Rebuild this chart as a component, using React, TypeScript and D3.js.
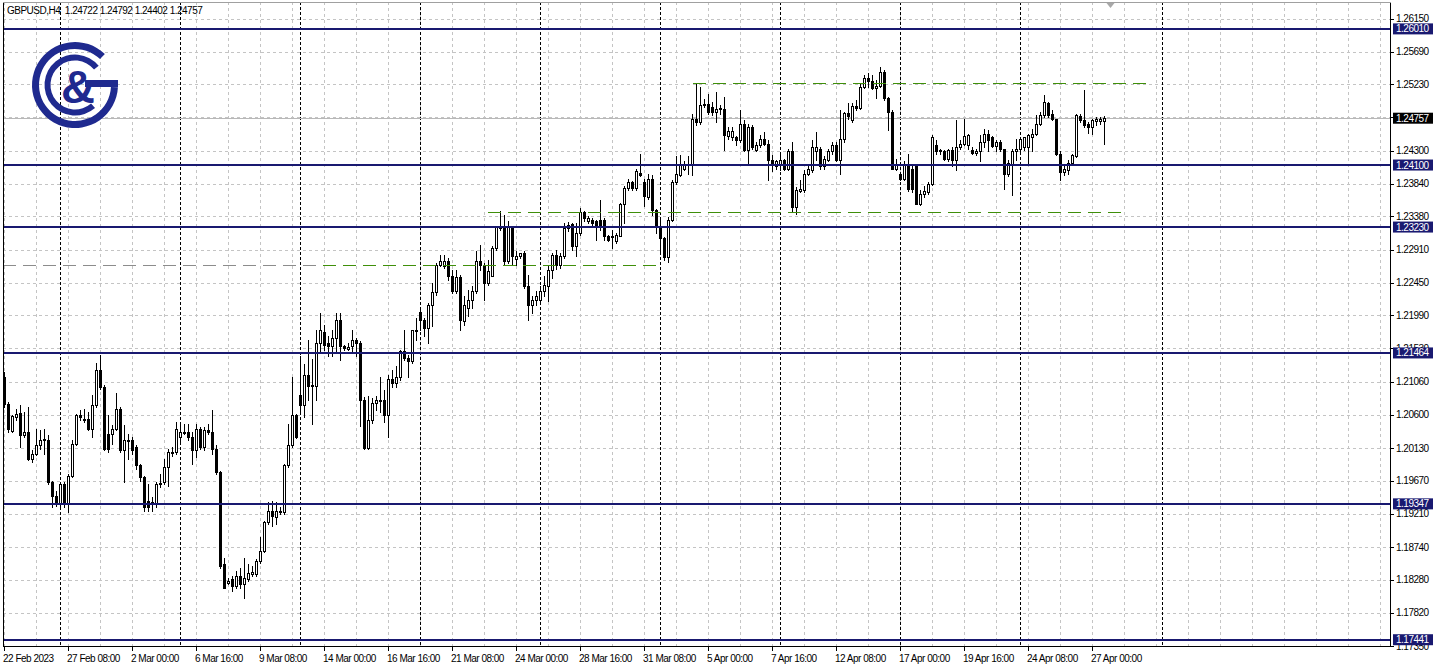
import * as d3 from "d3";

// chart header
const symbol = "GBPUSD";
const timeframe = "H4";

// H4 candles, first bar 22 Feb 2023 16:00
const opens = [
  1.2113, 1.2075, 1.2037, 1.2057, 1.2062, 1.2031, 1.2035, 1.1998, 1.2005, 1.2017,
  1.2024, 1.2024, 1.1965, 1.1946, 1.1935, 1.1963, 1.1935, 1.1974, 1.2019, 1.2059,
  1.2054, 1.2054, 1.2040, 1.2073, 1.2122, 1.2099, 1.2033, 1.2033, 1.2040, 1.2068,
  1.2010, 1.2023, 1.2024, 1.2014, 1.1989, 1.1972, 1.1939, 1.1935, 1.1935, 1.1962,
  1.1965, 1.1986, 1.2008, 1.2008, 1.2029, 1.2035, 1.2035, 1.2028, 1.2010, 1.2040,
  1.2014, 1.2038, 1.2036, 1.2012, 1.1979, 1.1850, 1.1824, 1.1829, 1.1820, 1.1833,
  1.1822, 1.1829, 1.1836, 1.1836, 1.1855, 1.1869, 1.1909, 1.1925, 1.1916, 1.1925,
  1.1923, 1.1989, 1.2017, 1.2059, 1.2088, 1.2073, 1.2116, 1.2100, 1.2100, 1.2160,
  1.2176, 1.2161, 1.2156, 1.2167, 1.2193, 1.2156, 1.2152, 1.2156, 1.2165, 1.2160,
  1.2081, 1.2013, 1.2053, 1.2076, 1.2079, 1.2080, 1.2060, 1.2110, 1.2104, 1.2113,
  1.2149, 1.2139, 1.2135, 1.2177, 1.2204, 1.2193, 1.2181, 1.2214, 1.2232, 1.2270,
  1.2268, 1.2276, 1.2254, 1.2233, 1.2253, 1.2191, 1.2210, 1.2221, 1.2233, 1.2276,
  1.2270, 1.2245, 1.2255, 1.2294, 1.2324, 1.2321, 1.2275, 1.2323, 1.2278, 1.2283,
  1.2286, 1.2240, 1.2214, 1.2221, 1.2221, 1.2233, 1.2240, 1.2263, 1.2284, 1.2270,
  1.2283, 1.2321, 1.2327, 1.2296, 1.2315, 1.2344, 1.2331, 1.2333, 1.2331, 1.2333,
  1.2333, 1.2310, 1.2309, 1.2303, 1.2311, 1.2356, 1.2378, 1.2386, 1.2378, 1.2399,
  1.2386, 1.2365, 1.2391, 1.2347, 1.2323, 1.2307, 1.2281, 1.2333, 1.2386, 1.2396,
  1.2405, 1.2411, 1.2412, 1.2475, 1.2471, 1.2494, 1.2496, 1.2492, 1.2485, 1.2488,
  1.2489, 1.2451, 1.2449, 1.2450, 1.2445, 1.2468, 1.2431, 1.2464, 1.2431, 1.2438,
  1.2447, 1.2440, 1.2417, 1.2408, 1.2410, 1.2417, 1.2405, 1.2429, 1.2351, 1.2373,
  1.2375, 1.2398, 1.2403, 1.2430, 1.2432, 1.2408, 1.2417, 1.2429, 1.2438, 1.2417,
  1.2446, 1.2483, 1.2473, 1.2493, 1.2490, 1.2520, 1.2532, 1.2528, 1.2518, 1.2521,
  1.2540, 1.2504, 1.2485, 1.2405, 1.2397, 1.2391, 1.2412, 1.2405, 1.2410, 1.2356,
  1.2369, 1.2372, 1.2384, 1.2438, 1.2429, 1.2429, 1.2419, 1.2431, 1.2417, 1.2436,
  1.2440, 1.2438, 1.2431, 1.2427, 1.2430, 1.2443, 1.2454, 1.2449, 1.2437, 1.2443,
  1.2432, 1.2398, 1.2412, 1.2430, 1.2433, 1.2436, 1.2436, 1.2450, 1.2454, 1.2468,
  1.2480, 1.2497, 1.2482, 1.2474, 1.2426, 1.2400, 1.2403, 1.2413, 1.2422, 1.2479,
  1.2473, 1.2467, 1.2463, 1.2472, 1.2472, 1.24722,
];

const highs = [
  1.2120, 1.2078, 1.2060, 1.2068, 1.2073, 1.2064, 1.2071, 1.2010, 1.2040, 1.2038,
  1.2040, 1.2031, 1.1967, 1.1953, 1.1965, 1.1965, 1.1977, 1.2024, 1.2061, 1.2066,
  1.2068, 1.2064, 1.2087, 1.2132, 1.2144, 1.2101, 1.2059, 1.2045, 1.2090, 1.2071,
  1.2045, 1.2033, 1.2029, 1.2017, 1.1991, 1.1974, 1.1963, 1.1944, 1.1965, 1.1977,
  1.1998, 1.2012, 1.2014, 1.2050, 1.2046, 1.2047, 1.2047, 1.2035, 1.2047, 1.2043,
  1.2042, 1.2047, 1.2066, 1.2017, 1.1981, 1.1859, 1.1831, 1.1834, 1.1841, 1.1845,
  1.1859, 1.1850, 1.1848, 1.1857, 1.1888, 1.1911, 1.1937, 1.1939, 1.1937, 1.1930,
  1.1991, 1.2047, 1.2113, 1.2061, 1.2142, 1.2131, 1.2165, 1.2138, 1.2179, 1.2202,
  1.2185, 1.2170, 1.2179, 1.2202, 1.2202, 1.2158, 1.2160, 1.2179, 1.2167, 1.2163,
  1.2085, 1.2086, 1.2083, 1.2086, 1.2113, 1.2095, 1.2116, 1.2123, 1.2128, 1.2151,
  1.2179, 1.2144, 1.2179, 1.2195, 1.2209, 1.2195, 1.2216, 1.2244, 1.2272, 1.2284,
  1.2284, 1.2280, 1.2263, 1.2263, 1.2256, 1.2226, 1.2235, 1.2240, 1.2289, 1.2298,
  1.2272, 1.2277, 1.2296, 1.2325, 1.2345, 1.2340, 1.2331, 1.2325, 1.2289, 1.2287,
  1.2289, 1.2256, 1.2226, 1.2233, 1.2240, 1.2254, 1.2270, 1.2287, 1.2291, 1.2287,
  1.2328, 1.2330, 1.2329, 1.2329, 1.2350, 1.2345, 1.2338, 1.2336, 1.2333, 1.2361,
  1.2336, 1.2312, 1.2319, 1.2314, 1.2357, 1.2380, 1.2390, 1.2387, 1.2405, 1.2425,
  1.2390, 1.2398, 1.2396, 1.2349, 1.2336, 1.2309, 1.2337, 1.2389, 1.2422, 1.2424,
  1.2415, 1.2422, 1.2482, 1.2524, 1.2520, 1.2503, 1.2510, 1.2499, 1.2513, 1.2494,
  1.2506, 1.2464, 1.2464, 1.2451, 1.2487, 1.2473, 1.2468, 1.2466, 1.2443, 1.2452,
  1.2457, 1.2445, 1.2424, 1.2417, 1.2426, 1.2419, 1.2433, 1.2443, 1.2379, 1.2389,
  1.2403, 1.2412, 1.2445, 1.2457, 1.2436, 1.2422, 1.2433, 1.2443, 1.2443, 1.2487,
  1.2485, 1.2497, 1.2497, 1.2501, 1.2523, 1.2536, 1.2539, 1.2536, 1.2529, 1.2547,
  1.2544, 1.2506, 1.2487, 1.2418, 1.2400, 1.2415, 1.2426, 1.2410, 1.2412, 1.2375,
  1.2380, 1.2386, 1.2452, 1.2445, 1.2433, 1.2431, 1.2433, 1.2436, 1.2473, 1.2445,
  1.2475, 1.2454, 1.2436, 1.2433, 1.2452, 1.2461, 1.2459, 1.2451, 1.2445, 1.2445,
  1.2433, 1.2417, 1.2433, 1.2447, 1.2450, 1.2450, 1.2454, 1.2461, 1.2480, 1.2485,
  1.2508, 1.2499, 1.2487, 1.2475, 1.2429, 1.2410, 1.2417, 1.2426, 1.2482, 1.2482,
  1.2515, 1.2471, 1.2475, 1.2478, 1.2477, 1.24792,
];

const lows = [
  1.2070, 1.2035, 1.2035, 1.2052, 1.2014, 1.2029, 1.1996, 1.1993, 1.2003, 1.2012,
  1.2005, 1.1963, 1.1930, 1.1932, 1.1932, 1.1930, 1.1923, 1.1972, 1.2017, 1.2052,
  1.2050, 1.2038, 1.2028, 1.2070, 1.2096, 1.2010, 1.2007, 1.2019, 1.2038, 1.2007,
  1.1965, 1.1998, 1.2005, 1.1984, 1.1967, 1.1925, 1.1925, 1.1925, 1.1930, 1.1959,
  1.1962, 1.1960, 1.2002, 1.2005, 1.2023, 1.2033, 1.2024, 1.1991, 1.2000, 1.2012,
  1.2010, 1.2033, 1.2005, 1.1977, 1.1845, 1.1817, 1.1822, 1.1812, 1.1817, 1.1817,
  1.1803, 1.1826, 1.1834, 1.1834, 1.1852, 1.1867, 1.1906, 1.1904, 1.1906, 1.1920,
  1.1920, 1.1986, 1.2014, 1.2027, 1.2061, 1.2056, 1.2080, 1.2047, 1.2080, 1.2148,
  1.2150, 1.2142, 1.2142, 1.2146, 1.2137, 1.2151, 1.2151, 1.2146, 1.2142, 1.2044,
  1.2012, 1.2012, 1.2048, 1.2067, 1.2063, 1.2049, 1.2029, 1.2099, 1.2099, 1.2109,
  1.2137, 1.2113, 1.2132, 1.2165, 1.2179, 1.2170, 1.2160, 1.2184, 1.2228, 1.2268,
  1.2266, 1.2249, 1.2230, 1.2230, 1.2179, 1.2186, 1.2198, 1.2209, 1.2230, 1.2263,
  1.2221, 1.2242, 1.2254, 1.2291, 1.2319, 1.2270, 1.2273, 1.2270, 1.2270, 1.2280,
  1.2238, 1.2193, 1.2203, 1.2214, 1.2219, 1.2226, 1.2219, 1.2252, 1.2264, 1.2266,
  1.2280, 1.2317, 1.2291, 1.2282, 1.2312, 1.2331, 1.2329, 1.2324, 1.2305, 1.2319,
  1.2305, 1.2303, 1.2294, 1.2301, 1.2310, 1.2329, 1.2375, 1.2375, 1.2375, 1.2394,
  1.2352, 1.2363, 1.2340, 1.2314, 1.2288, 1.2277, 1.2274, 1.2331, 1.2384, 1.2394,
  1.2403, 1.2398, 1.2396, 1.2466, 1.2468, 1.2492, 1.2482, 1.2480, 1.2471, 1.2482,
  1.2431, 1.2447, 1.2445, 1.2438, 1.2443, 1.2429, 1.2412, 1.2432, 1.2429, 1.2436,
  1.2438, 1.2389, 1.2401, 1.2405, 1.2403, 1.2403, 1.2403, 1.2345, 1.2342, 1.2372,
  1.2372, 1.2396, 1.2400, 1.2417, 1.2405, 1.2405, 1.2415, 1.2426, 1.2415, 1.2398,
  1.2443, 1.2475, 1.2471, 1.2487, 1.2488, 1.2518, 1.2520, 1.2516, 1.2504, 1.2520,
  1.2501, 1.2459, 1.2405, 1.2403, 1.2389, 1.2389, 1.2374, 1.2372, 1.2356, 1.2354,
  1.2365, 1.2370, 1.2382, 1.2426, 1.2426, 1.2417, 1.2415, 1.2408, 1.2403, 1.2433,
  1.2438, 1.2433, 1.2425, 1.2424, 1.2415, 1.2436, 1.2429, 1.2436, 1.2430, 1.2430,
  1.2377, 1.2394, 1.2368, 1.2417, 1.2429, 1.2431, 1.2412, 1.2429, 1.2452, 1.2466,
  1.2478, 1.2478, 1.2473, 1.2424, 1.2389, 1.2396, 1.2398, 1.2410, 1.2421, 1.2471,
  1.2464, 1.2455, 1.2454, 1.2466, 1.2468, 1.24402,
];

const closes = [
  1.2075, 1.2040, 1.2058, 1.2061, 1.2031, 1.2035, 1.1998, 1.2004, 1.2017, 1.2024,
  1.2025, 1.1965, 1.1946, 1.1935, 1.1963, 1.1935, 1.1974, 1.2019, 1.2060, 1.2057,
  1.2052, 1.2040, 1.2073, 1.2122, 1.2099, 1.2012, 1.2012, 1.2040, 1.2068, 1.2010,
  1.2024, 1.2024, 1.2010, 1.1989, 1.1972, 1.1930, 1.1930, 1.1937, 1.1963, 1.1964,
  1.1986, 1.2007, 1.2006, 1.2040, 1.2035, 1.2034, 1.2028, 1.2010, 1.2040, 1.2014,
  1.2038, 1.2035, 1.2012, 1.1979, 1.1848, 1.1817, 1.1827, 1.1820, 1.1833, 1.1822,
  1.1831, 1.1838, 1.1839, 1.1855, 1.1869, 1.1909, 1.1925, 1.1918, 1.1925, 1.1923,
  1.1989, 1.2017, 1.2059, 1.2029, 1.2073, 1.2115, 1.2100, 1.2101, 1.2160, 1.2179,
  1.2158, 1.2156, 1.2167, 1.2193, 1.2156, 1.2153, 1.2155, 1.2165, 1.2160, 1.2081,
  1.2013, 1.2053, 1.2076, 1.2081, 1.2081, 1.2060, 1.2110, 1.2104, 1.2113, 1.2149,
  1.2139, 1.2135, 1.2178, 1.2178, 1.2193, 1.2181, 1.2214, 1.2232, 1.2270, 1.2276,
  1.2276, 1.2254, 1.2233, 1.2253, 1.2193, 1.2213, 1.2221, 1.2233, 1.2276, 1.2270,
  1.2245, 1.2261, 1.2294, 1.2323, 1.2321, 1.2275, 1.2323, 1.2283, 1.2283, 1.2286,
  1.2240, 1.2214, 1.2221, 1.2226, 1.2233, 1.2242, 1.2263, 1.2284, 1.2270, 1.2283,
  1.2321, 1.2326, 1.2296, 1.2315, 1.2344, 1.2336, 1.2336, 1.2329, 1.2325, 1.2325,
  1.2310, 1.2305, 1.2310, 1.2312, 1.2356, 1.2378, 1.2386, 1.2378, 1.2401, 1.2396,
  1.2366, 1.2391, 1.2347, 1.2323, 1.2307, 1.2281, 1.2333, 1.2386, 1.2398, 1.2410,
  1.2410, 1.2412, 1.2475, 1.2471, 1.2494, 1.2496, 1.2485, 1.2485, 1.2488, 1.2490,
  1.2452, 1.2458, 1.2458, 1.2445, 1.2468, 1.2431, 1.2464, 1.2435, 1.2438, 1.2447,
  1.2440, 1.2417, 1.2410, 1.2415, 1.2417, 1.2404, 1.2429, 1.2351, 1.2375, 1.2377,
  1.2398, 1.2405, 1.2435, 1.2435, 1.2408, 1.2418, 1.2430, 1.2438, 1.2417, 1.2446,
  1.2483, 1.2479, 1.2493, 1.2490, 1.2520, 1.2532, 1.2528, 1.2518, 1.2521, 1.2540,
  1.2504, 1.2485, 1.2405, 1.2410, 1.2391, 1.2412, 1.2377, 1.2377, 1.2356, 1.2370,
  1.2374, 1.2384, 1.2450, 1.2429, 1.2431, 1.2419, 1.2431, 1.2417, 1.2436, 1.2440,
  1.2451, 1.2452, 1.2427, 1.2430, 1.2443, 1.2454, 1.2445, 1.2437, 1.2443, 1.2432,
  1.2398, 1.2413, 1.2430, 1.2433, 1.2447, 1.2449, 1.2452, 1.2454, 1.2468, 1.2480,
  1.2499, 1.2480, 1.2475, 1.2426, 1.2400, 1.2404, 1.2413, 1.2424, 1.2480, 1.2473,
  1.2466, 1.2463, 1.2473, 1.2475, 1.2475, 1.24757,
];

// time axis: one label every 16 bars, starting at bar 0
const timeLabels = [
  "22 Feb 2023", "27 Feb 08:00", "2 Mar 00:00", "6 Mar 16:00", "9 Mar 08:00",
  "14 Mar 00:00", "16 Mar 16:00", "21 Mar 08:00", "24 Mar 00:00", "28 Mar 16:00",
  "31 Mar 08:00", "5 Apr 00:00", "7 Apr 16:00", "12 Apr 08:00", "17 Apr 00:00",
  "19 Apr 16:00", "24 Apr 08:00", "27 Apr 00:00",
];
const barsPerLabel = 16;
const barsPerGrid = 8;

// price axis tick labels (grid levels)
const priceTicks = [
  "1.26150", "1.25690", "1.25230", "1.24770", "1.24300", "1.23840", "1.23380",
  "1.22910", "1.22450", "1.21990", "1.21530", "1.21060", "1.20600", "1.20130",
  "1.19670", "1.19210", "1.18740", "1.18280", "1.17820", "1.17350",
];

// support / resistance levels (navy horizontal lines)
const levels = [1.2601, 1.241, 1.2323, 1.21464, 1.19347, 1.17441];
const bidPrice = 1.24757;

// week separators, as bar index
const separators = [14, 44, 74, 104, 134, 164, 194, 224, 254, 289.5];

// dashed range lines: price, first bar, last bar
const rangePrices = [1.25247, 1.23437, 1.22704];
const rangeFrom = [172, 120.75, 79.5];
const rangeTo = [287, 280.75, 163.25];
const oldRangePrice = 1.22704;
const oldRangeFrom = -1;
const oldRangeTo = 79.5;
const shiftMarkBar = 276.5;

const W = 1438;
const H = 670;
const plotLeft = 3;
const plotRight = 1390.5;
const plotTop = 2;
const plotBottom = 646.5;

const font = "'Liberation Sans', Arial, sans-serif";
const navy = "#191970";
const logoBlue = "#1f2a8f";

const x = d3.scaleLinear().domain([0, 1]).range([4.5, 8.5]);
const y = d3.scaleLinear().domain([1.2569, 1.1782]).range([51.7, 612.7]);

const px = (v: number) => Math.round(v) + 0.5;
const deg = (a: number) => (a * Math.PI) / 180;

function Logo() {
  const cx = 75;
  const cy = 85;
  const arc = d3.arc();
  const outer = arc({
    innerRadius: 36,
    outerRadius: 43,
    startAngle: deg(-267),
    endAngle: deg(44),
  } as any);
  const inner = arc({
    innerRadius: 24.5,
    outerRadius: 30.5,
    startAngle: deg(139),
    endAngle: deg(411),
  } as any);
  return (
    <g fill={logoBlue}>
      <path d={outer as string} transform={`translate(${cx},${cy})`} />
      <path d={inner as string} transform={`translate(${cx},${cy})`} />
      <rect x={cx + 10} y={cy - 5} width={33} height={7} />
      <text
        x={cx + 3}
        y={cy + 18}
        textAnchor="middle"
        fontFamily={font}
        fontWeight="bold"
        fontSize={47}
      >
        &amp;
      </text>
    </g>
  );
}

export default function App() {
  const n = opens.length;
  const last = n - 1;
  const header = `${symbol},${timeframe}  ${opens[last].toFixed(5)} ${highs[last].toFixed(5)} ${lows[last].toFixed(5)} ${closes[last].toFixed(5)}`;

  const gridBars = d3.range(0, 400, barsPerGrid).filter((i) => x(i) < plotRight);
  const textStyle = { letterSpacing: "-0.5px", whiteSpace: "pre" as const };

  return (
    <svg
      width={W}
      height={H}
      style={{ position: "absolute", left: 0, top: 0, background: "#fff" }}
      fontFamily={font}
      fontSize={10}
    >
      <rect width={W} height={H} fill="#fff" />

      {/* grid */}
      <g stroke="#c4c4c4" strokeDasharray="3,3" shapeRendering="crispEdges">
        {gridBars.map((i) => (
          <line key={"v" + i} x1={x(i)} x2={x(i)} y1={plotTop} y2={plotBottom} />
        ))}
        {priceTicks.map((t) => (
          <line
            key={"h" + t}
            x1={plotLeft}
            x2={plotRight}
            y1={px(y(+t))}
            y2={px(y(+t))}
          />
        ))}
      </g>

      {/* week separators */}
      <g stroke="#000" strokeDasharray="3,2" shapeRendering="crispEdges">
        {separators.map((s) => (
          <line key={s} x1={x(s)} x2={x(s)} y1={plotTop} y2={plotBottom} />
        ))}
      </g>

      {/* bid line */}
      <line
        x1={plotLeft}
        x2={plotRight}
        y1={px(y(bidPrice))}
        y2={px(y(bidPrice))}
        stroke="#b8b8b8"
        shapeRendering="crispEdges"
      />

      {/* candles */}
      <g shapeRendering="crispEdges">
        {opens.map((o, i) => {
          const c = closes[i];
          const cx = x(i);
          const hi = Math.max(highs[i], o, c);
          const lo = Math.min(lows[i], o, c);
          const yt = px(y(Math.max(o, c)));
          const yb = px(y(Math.min(o, c)));
          return (
            <g key={i}>
              <line
                x1={cx}
                x2={cx}
                y1={Math.round(y(hi))}
                y2={Math.round(y(lo)) + 1}
                stroke="#000"
              />
              <path
                d={`M${cx - 1},${yt}H${cx + 1}V${yb}H${cx - 1}Z`}
                fill={c >= o ? "#fff" : "#000"}
                stroke="#000"
              />
            </g>
          );
        })}
      </g>

      {/* navy levels */}
      <g stroke={navy} strokeWidth={2}>
        {levels.map((l) => (
          <line
            key={l}
            x1={plotLeft}
            x2={plotRight}
            y1={Math.round(y(l))}
            y2={Math.round(y(l))}
          />
        ))}
      </g>

      {/* dashed range lines */}
      <g strokeDasharray="13,7" shapeRendering="crispEdges">
        <line
          x1={Math.max(plotLeft, x(oldRangeFrom))}
          x2={x(oldRangeTo)}
          y1={px(y(oldRangePrice))}
          y2={px(y(oldRangePrice))}
          stroke="#8c8c8c"
        />
        {rangePrices.map((p, k) => (
          <line
            key={p}
            x1={x(rangeFrom[k])}
            x2={x(rangeTo[k])}
            y1={px(y(p))}
            y2={px(y(p))}
            stroke="#3f8f0a"
          />
        ))}
      </g>

      <Logo />

      {/* header */}
      <text x={7} y={14} style={textStyle} fill="#000">
        {header}
      </text>

      {/* shift marker */}
      <path
        d={`M${x(shiftMarkBar) - 4},${plotTop + 1}H${x(shiftMarkBar) + 4}L${x(shiftMarkBar)},${plotTop + 6}Z`}
        fill="#a8a8a8"
      />

      {/* frame */}
      <g stroke="#000" shapeRendering="crispEdges" fill="none">
        <line x1={plotLeft + 0.5} x2={plotLeft + 0.5} y1={plotTop} y2={plotBottom} />
        <line x1={plotRight} x2={plotRight} y1={plotTop} y2={plotBottom} />
        <line x1={plotLeft} x2={plotRight} y1={plotBottom} y2={plotBottom} />
      </g>
      <line
        x1={plotLeft}
        x2={plotRight}
        y1={plotTop + 0.5}
        y2={plotTop + 0.5}
        stroke="#a0a0a0"
        shapeRendering="crispEdges"
      />

      {/* price axis */}
      <g>
        {priceTicks.map((t) => (
          <g key={t}>
            <line
              x1={plotRight}
              x2={plotRight + 3}
              y1={px(y(+t))}
              y2={px(y(+t))}
              stroke="#000"
              shapeRendering="crispEdges"
            />
            <text x={1396} y={y(+t) + 3.5} style={textStyle}>
              {t}
            </text>
          </g>
        ))}
        {levels.map((l) => (
          <g key={l}>
            <rect x={1393} y={y(l) - 5.5} width={40} height={11} fill={navy} />
            <text x={1396} y={y(l) + 3.5} fill="#fff" style={textStyle}>
              {l.toFixed(5)}
            </text>
          </g>
        ))}
        <rect x={1393} y={y(bidPrice) - 5.5} width={40} height={11} fill="#000" />
        <text x={1396} y={y(bidPrice) + 3.5} fill="#fff" style={textStyle}>
          {bidPrice.toFixed(5)}
        </text>
      </g>

      {/* time axis */}
      <g>
        {timeLabels.map((t, k) => {
          const xi = x(k * barsPerLabel);
          return (
            <g key={t}>
              <line
                x1={xi}
                x2={xi}
                y1={plotBottom}
                y2={plotBottom + 4}
                stroke="#000"
                shapeRendering="crispEdges"
              />
              <text x={xi - 1.5} y={662} style={textStyle}>
                {t}
              </text>
            </g>
          );
        })}
      </g>
    </svg>
  );
}
